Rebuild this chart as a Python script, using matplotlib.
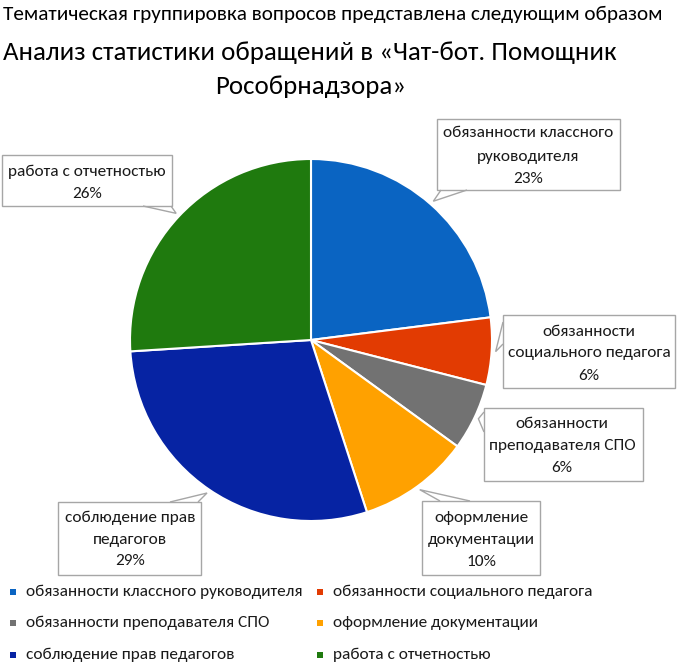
import matplotlib
matplotlib.use('Agg')
import matplotlib.pyplot as plt
from matplotlib.patches import Rectangle, Polygon
import numpy as np

# Данные диаграммы
categories = [
    'обязанности классного руководителя',
    'обязанности социального педагога',
    'обязанности преподавателя СПО',
    'оформление документации',
    'соблюдение прав педагогов',
    'работа с отчетностью',
]
shares = [23, 6, 6, 10, 29, 26]
box_labels = [
    'обязанности классного\nруководителя',
    'обязанности\nсоциального педагога',
    'обязанности\nпреподавателя СПО',
    'оформление\nдокументации',
    'соблюдение прав\nпедагогов',
    'работа с отчетностью',
]
colors = ['#0A64C2', '#E23B02', '#727272', '#FFA100', '#0623A3', '#1F7A0E']

FONT = ['Carlito', 'Roboto', 'DejaVu Sans']
W, H = 680, 669

fig = plt.figure(figsize=(W / 100, H / 100), dpi=100)
ax = fig.add_axes([0, 0, 1, 1])


def Y(py):
    # пиксели сверху -> координаты осей
    return H - py


wedges, _ = ax.pie(shares, colors=colors, startangle=90, counterclock=False,
                   center=(311, Y(340)), radius=181, frame=True,
                   wedgeprops=dict(edgecolor='white', linewidth=1.5))
ax.set_xlim(0, W)
ax.set_ylim(0, H)
ax.set_aspect('auto')
ax.axis('off')

# Выноски: рамка (x0, y0, x1, y1), основание указателя, центр текста, строки
callouts = [
    dict(box=(437, 119, 620, 190), base=((441, 190), (467, 190)), cx=528, ys=(133, 157, 179)),
    dict(box=(503, 315, 675, 388), base=((503, 322), (503, 344)), cx=589, ys=(332, 353, 376)),
    dict(box=(484, 408, 643, 481), base=((484, 412), (484, 432)), cx=562, ys=(424, 446, 468)),
    dict(box=(422, 501, 540, 575), base=((440, 501), (470, 501)), cx=481, ys=(518, 540, 562)),
    dict(box=(58, 502, 201, 575), base=((170, 502), (198, 502)), cx=130, ys=(518, 540, 561)),
    dict(box=(2, 155, 172, 206), base=((143, 206), (171, 206)), cx=87, ys=(172, 194)),
]

for w, c, lab, pct in zip(wedges, callouts, box_labels, shares):
    x0, y0, x1, y1 = c['box']
    ax.add_patch(Rectangle((x0, Y(y1)), x1 - x0, y1 - y0, facecolor='white',
                           edgecolor='#A6A6A6', linewidth=1.0, zorder=3))
    mid = np.deg2rad((w.theta1 + w.theta2) / 2)
    tip = (311 + 185 * np.cos(mid), Y(340) + 185 * np.sin(mid))
    (bx0, by0), (bx1, by1) = c['base']
    ax.add_patch(Polygon([(bx0, Y(by0)), tip, (bx1, Y(by1))], closed=False,
                         facecolor='none', edgecolor='#A6A6A6', linewidth=1.0, zorder=4))
    lines = lab.split('\n') + [f'{pct}%']
    for line, ly in zip(lines, c['ys']):
        ax.text(c['cx'], Y(ly), line, ha='center', va='center', fontsize=12.4,
                family=FONT, color='#1a1a1a', zorder=5)

# Заголовки
ax.text(3, Y(14), 'Тематическая группировка вопросов представлена следующим образом',
        ha='left', va='center', fontsize=15.3, family=FONT, color='black')
ax.text(3, Y(52), 'Анализ статистики обращений в «Чат-бот. Помощник',
        ha='left', va='center', fontsize=19.4, family=FONT, color='black')
ax.text(311, Y(87), 'Рособрнадзора»',
        ha='center', va='center', fontsize=19.4, family=FONT, color='black')

# Легенда
leg_x = [10, 317]
leg_y = [592, 623, 655]
for i, (name, col) in enumerate(zip(categories, colors)):
    lx = leg_x[i % 2]
    ly = leg_y[i // 2]
    ax.add_patch(Rectangle((lx, Y(ly) - 3), 6, 6, facecolor=col, edgecolor='none'))
    ax.text(lx + 16, Y(ly), name, ha='left', va='center', fontsize=12.4,
            family=FONT, color='#1a1a1a')

fig.savefig('out.png', dpi=100, facecolor='white')
